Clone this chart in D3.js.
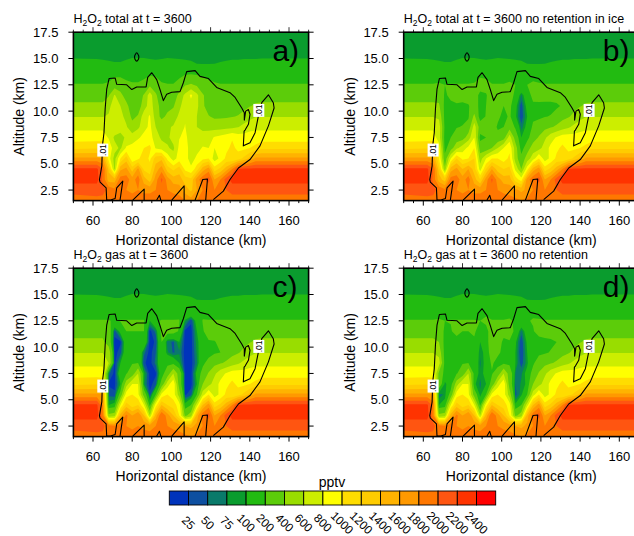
<!DOCTYPE html>
<html><head><meta charset="utf-8">
<script src="https://cdnjs.cloudflare.com/ajax/libs/d3/7.8.5/d3.min.js"></script>
<style>html,body{margin:0;padding:0;background:#fff;overflow:hidden}svg{display:block}text{font-family:"Liberation Sans",Arial,sans-serif;fill:#000}</style>
</head><body><svg id="c" width="634" height="536"></svg>
<script>
const levels=[25,50,75,100,200,400,600,800,1000,1200,1400,1600,1800,2000,2200,2400];
const colors=["#0033bb","#0d4fa0","#0a7a6a","#0a9c2e","#22bb11","#5ccc0a","#99dd00","#ccee00","#ffff00","#ffdd00","#ffcc00","#ffb300","#ff9900","#ff7700","#ff5511","#ff3300","#ff0000"];
const distance=[62,65,68,71,74,77,80,83,86,89,92,95,98,101,104,107,110,113,116,119,122,125,128,131,134,137,140,143,146,149,152,155];
const altitudeLow=[12.5,11.5,10.5,9.5,8.5,7.5,6.5,5.5,4.5,3.5,2.5,1.5];
const altitudeHigh=[17.5,16.5,15.5,14.5,13.5];
const clearAirHigh=[85,88,95,105,155];
const clearAirLow=[205,320,440,590,750,900,1150,1650,2240,2280,2070,1900];
const row145=[104,103,102,101,101,103,106,107,106,104,103,104,106,105,104,103,102,100,99,99,100,101,102,103,103,104,104,104,105,105,105,105];
const row135=[155,155,160,165,160,155,155,155,160,175,170,155,155,155,165,190,200,190,170,160,155,155,155,155,155,155,155,155,155,155,155,155];
const panelA=[
[205,205,215,290,300,235,215,215,245,350,300,215,205,205,255,380,420,370,290,240,215,205,205,205,205,205,205,205,205,205,205,205],
[320,320,380,620,450,320,270,290,420,700,430,270,255,270,460,650,840,650,420,320,290,280,280,285,290,295,305,315,320,320,320,320],
[440,440,550,700,600,450,300,300,500,700,500,320,340,380,550,720,720,650,430,320,295,285,290,300,310,340,390,430,440,440,440,440],
[590,590,620,700,650,550,350,420,720,820,500,350,440,500,640,780,700,600,430,410,370,370,375,390,410,470,540,585,590,590,590,590],
[750,750,760,780,700,620,480,560,720,850,600,530,570,620,720,810,640,600,550,530,510,520,530,550,590,660,720,750,750,750,750,750],
[900,900,780,560,520,640,680,760,880,880,700,560,560,680,790,850,700,680,680,720,820,860,920,980,900,880,900,900,900,900,900,900],
[1180,1180,950,680,560,830,880,980,1000,1050,780,700,620,560,850,900,700,720,820,800,800,850,950,1050,950,950,1000,1050,1150,1150,1150,1150],
[1650,1600,900,520,1000,1300,850,950,1150,950,1300,1350,950,700,900,900,700,850,950,1000,700,850,1050,1000,1100,1250,1450,1650,1650,1650,1650,1650],
[2240,2000,1350,550,1550,1650,1300,1650,1150,1100,1500,1700,1300,1150,1300,950,850,1100,1500,1700,1100,1250,1500,1800,2200,2240,2240,2240,2240,2240,2240,2240],
[2280,1950,1500,1500,1900,1900,1700,1900,1500,1300,1700,2050,1700,1500,1500,1300,1250,1700,1950,2100,1600,1800,2100,2280,2280,2280,2280,2280,2280,2280,2280,2280],
[2070,2050,1950,1850,1900,1800,1750,1800,1750,1750,1800,1900,1800,1750,1700,1500,1350,1600,1800,1800,1800,1850,2000,2070,2070,2070,2070,2070,2070,2070,2070,2070],
[1950,1950,1950,1950,1950,1950,1900,1950,1900,1900,1950,1950,1950,1900,1900,1800,1700,1800,1900,1900,1900,1900,1900,1900,1900,1900,1900,1900,1900,1900,1900,1900]];
const panelB=[
[205,205,210,200,205,205,205,205,210,250,240,205,205,205,215,200,190,200,215,210,205,205,205,205,205,205,205,205,205,205,205,205],
[320,320,320,180,230,290,260,260,260,170,190,260,255,255,260,170,70,150,230,270,280,280,280,285,290,295,305,315,320,320,320,320],
[440,440,430,150,170,170,170,190,260,170,200,290,290,200,230,120,35,120,180,160,150,150,170,220,280,340,390,430,440,440,440,440],
[590,590,560,140,150,150,150,180,450,120,210,320,230,160,220,110,30,100,180,170,190,210,280,340,380,450,530,585,590,590,590,590],
[750,750,700,160,190,190,210,260,700,300,280,280,180,200,300,180,60,120,220,280,340,380,430,500,570,650,720,750,750,750,750,750],
[900,900,700,130,200,280,300,500,800,150,200,220,250,300,700,300,100,150,300,420,560,720,820,900,900,880,890,900,900,900,900,900],
[1180,1180,900,150,300,550,700,850,1000,300,250,400,600,800,950,500,130,300,500,520,700,850,950,1050,950,950,1000,1050,1150,1150,1150,1150],
[1650,1600,1000,250,800,1200,950,1000,1200,500,800,1000,1000,900,1050,500,250,500,700,1000,700,850,1050,1000,1100,1250,1450,1650,1650,1650,1650,1650],
[2240,2000,1300,450,1500,1650,1400,1600,1300,700,1200,1600,1300,1200,1250,750,400,900,1500,1700,1100,1250,1500,1800,2200,2240,2240,2240,2240,2240,2240,2240],
[2280,1950,1500,1300,1900,1900,1700,1900,1500,1200,1700,2050,1700,1500,1500,1100,900,1700,1950,2100,1600,1800,2100,2280,2280,2280,2280,2280,2280,2280,2280,2280],
[2070,2050,1950,1850,1900,1800,1750,1800,1750,1750,1800,1900,1800,1750,1700,1650,1550,1650,1800,1800,1800,1850,2000,2070,2070,2070,2070,2070,2070,2070,2070,2070],
[1950,1950,1950,1950,1950,1950,1900,1950,1900,1900,1950,1950,1950,1900,1900,1850,1800,1850,1900,1900,1900,1900,1900,1900,1900,1900,1900,1900,1900,1900,1900,1900]];
const panelC=[
[205,205,205,190,205,205,205,205,205,100,190,205,205,205,205,90,30,130,205,205,205,205,205,205,205,205,205,205,205,205,205,205],
[320,320,290,40,120,200,200,200,200,15,60,230,240,240,190,15,15,100,190,250,280,280,280,285,290,295,305,315,320,320,320,320],
[440,440,300,12,20,150,160,170,180,12,30,200,60,45,100,12,12,90,130,190,190,240,260,280,300,340,390,430,440,440,440,440],
[590,590,530,12,40,150,160,170,60,12,50,170,80,45,70,12,12,80,150,150,180,200,280,340,380,450,530,585,590,590,590,590],
[750,750,600,15,100,170,190,200,30,12,60,170,170,160,100,12,12,70,170,250,340,380,430,500,570,650,720,750,750,750,750,750],
[900,900,60,15,150,190,280,600,100,12,20,150,280,600,300,15,15,120,250,420,560,720,820,900,900,880,890,900,900,900,900,900],
[1180,1150,20,18,100,500,800,800,80,15,40,250,700,950,300,15,15,100,400,520,700,850,950,1050,950,950,1000,1050,1150,1150,1150,1150],
[1650,1600,40,30,250,900,1000,850,300,30,200,850,1000,900,500,20,40,200,700,1000,700,850,1050,1000,1100,1250,1450,1650,1650,1650,1650,1650],
[2240,1800,100,120,800,1300,1100,1200,800,150,900,1400,1200,1100,900,120,200,700,1400,1700,1100,1250,1500,1800,2200,2240,2240,2240,2240,2240,2240,2240],
[2280,1900,450,500,1500,1850,1600,1800,1400,600,1500,2000,1700,1400,1000,350,500,1500,1950,2100,1600,1800,2100,2280,2280,2280,2280,2280,2280,2280,2280,2280],
[2070,2050,1900,1850,1900,1800,1750,1800,1750,1700,1800,1900,1800,1750,1700,1600,1550,1650,1800,1800,1800,1850,2000,2070,2070,2070,2070,2070,2070,2070,2070,2070],
[1950,1950,1950,1950,1950,1950,1900,1950,1900,1900,1950,1950,1950,1900,1900,1850,1800,1850,1900,1900,1900,1900,1900,1900,1900,1900,1900,1900,1900,1900,1900,1900]];
const panelD=[
[205,205,210,200,205,205,205,205,205,200,220,205,205,205,210,190,170,190,210,210,205,205,205,205,205,205,205,205,205,205,205,205],
[320,320,310,170,190,240,200,200,220,140,170,250,255,250,260,170,60,140,190,250,270,280,280,285,290,295,305,315,320,320,320,320],
[440,440,400,140,150,150,150,160,180,100,150,280,270,170,190,110,30,110,170,150,160,170,200,280,300,340,390,430,440,440,440,440],
[590,590,530,130,140,150,150,170,170,80,120,280,230,160,180,100,25,100,170,170,180,210,280,340,380,450,530,585,590,590,590,590],
[750,750,680,140,140,170,190,200,170,70,120,220,150,170,170,100,35,90,180,270,340,380,430,500,570,650,720,750,750,750,750,750],
[900,900,350,140,170,190,280,600,150,80,120,190,280,600,300,70,70,120,250,420,560,720,820,900,900,880,890,900,900,900,900,900],
[1180,1150,300,90,130,500,800,800,110,70,100,250,700,950,300,50,80,110,400,520,700,850,950,1050,950,950,1000,1050,1150,1150,1150,1150],
[1650,1600,60,80,250,900,1000,850,300,80,200,850,1000,900,500,40,90,200,700,1000,700,850,1050,1000,1100,1250,1450,1650,1650,1650,1650,1650],
[2240,1900,100,130,800,1300,1100,1200,800,170,900,1400,1200,1100,900,110,200,700,1400,1700,1100,1250,1500,1800,2200,2240,2240,2240,2240,2240,2240,2240],
[2280,1900,450,500,1500,1850,1600,1800,1400,600,1500,2000,1700,1400,1000,350,500,1500,1950,2100,1600,1800,2100,2280,2280,2280,2280,2280,2280,2280,2280,2280],
[2070,2050,1900,1850,1900,1800,1750,1800,1750,1700,1800,1900,1800,1750,1700,1600,1550,1650,1800,1800,1800,1850,2000,2070,2070,2070,2070,2070,2070,2070,2070,2070],
[1950,1950,1950,1950,1950,1950,1900,1950,1900,1900,1950,1950,1950,1900,1900,1850,1800,1850,1900,1900,1900,1900,1900,1900,1900,1900,1900,1900,1900,1900,1900,1900]];
const cloudOutline=[[67,1.5],[66.7,2.7],[63.6,3.25],[63.3,3.5],[64.5,4.8],[64.8,6.7],[65.6,7.95],[66.2,10.2],[67,12.1],[68.2,13.1],[71.3,13.15],[72.1,12.55],[77.2,12.5],[79.8,12.05],[82.3,12.3],[87.1,12.3],[87.9,13.2],[90,13.65],[92.5,13],[94.2,12.05],[95.9,11],[97.6,11.6],[100.2,11.8],[104.4,11.85],[106.1,12.7],[107.8,13.75],[112.1,13.85],[114.6,13.3],[118.9,13.1],[123.1,12.25],[129.9,11.75],[132.5,11.3],[135.9,10.3],[137.2,9.85],[137.2,9.15],[137.9,10],[139.3,10.15],[140.1,9.7],[139.3,8.75],[137.6,8.2],[137.1,8.1],[136.7,6.7],[140.1,7],[142.7,7.95],[144.4,9.55],[146.1,10.8],[149.5,11.55],[152,10.8],[152.4,10.3],[149.5,8.6],[145.2,6.7],[140.1,5.4],[134.2,4.6],[129.9,3.5],[126.5,2.4],[121.4,1.6]];
const cloudLobes=[[[67,1.55],[69,1.55],[71.3,1.7],[72.1,2.7],[75.2,3.35],[73.8,1.55]],[[80.3,1.55],[86.1,2.6],[86.1,1.55]],[[92.5,1.55],[93.9,2],[94.6,1.55]],[[100.2,1.55],[106.5,2.9],[106.5,1.55]],[[112.1,1.55],[116,3.5],[118.4,3.55],[117.5,1.55]]];
const cloudRing=[[82.3,15.55],[83.1,15.35],[83.4,15.15],[83.1,14.9],[82.3,14.75],[81.5,14.9],[81.2,15.15],[81.5,15.35]];
const contourLabels=[[65,6.3],[144.6,10.07]];
const xTicks=[60,80,100,120,140,160];
const yTicks=[2.5,5,7.5,10,12.5,15,17.5];
const titles=[["total at t = 3600","a)"],["total at t = 3600 no retention in ice","b)"],["gas at t = 3600","c)"],["gas at t = 3600 no retention","d)"]];
const panels=[panelA,panelB,panelC,panelD];

const svg=d3.select("#c");
const W=235.2,H=168.4,X0=[73.4,403.7],Y0=[32.2,268.2];
const xs=[50,...distance,170];
const alts=[...altitudeHigh,...altitudeLow];
const xScale=d3.scaleLinear().domain([50,170]).range([0,W]);
const yScale=d3.scaleLinear().domain([17.5,1.5]).range([0,H]);
const ix=d3.scaleLinear().domain(xs.map((d,i)=>i+0.5)).range(xs).clamp(true);
const iy=d3.scaleLinear().domain(alts.map((d,i)=>i+0.5)).range(alts).clamp(true);
const proj=d3.geoTransform({point(x,y){this.stream.point(xScale(ix(x)),yScale(iy(y)));}});
const geo=d3.geoPath(proj);
const line=d3.line().x(d=>xScale(d[0])).y(d=>yScale(d[1]));

panels.forEach((m,k)=>{
  const col=k%2,row=k>>1,g=svg.append("g").attr("transform",`translate(${X0[col]},${Y0[row]})`);
  const grid=[];
  altitudeHigh.forEach((a,r)=>{
    const v=r===3?row145:r===4?row135:distance.map(()=>clearAirHigh[r]);
    grid.push(clearAirHigh[r],...v,clearAirHigh[r]);
  });
  m.forEach((vals,r)=>grid.push(clearAirLow[r],...vals,clearAirLow[r]));
  const cs=d3.contours().size([xs.length,alts.length]).smooth(true).thresholds(levels)(grid);
  const cid="clip"+k;
  g.append("clipPath").attr("id",cid).append("rect").attr("width",W).attr("height",H);
  const body=g.append("g").attr("clip-path",`url(#${cid})`);
  body.append("rect").attr("width",W).attr("height",H).attr("fill",colors[0]);
  body.selectAll("path.f").data(cs).join("path").attr("class","f").attr("d",geo).attr("fill",(d,i)=>colors[i+1]);
  const stroke=s=>s.attr("fill","none").attr("stroke","#000").attr("stroke-width",1.1).attr("stroke-linejoin","round");
  body.append("path").attr("d",line(cloudOutline)).call(stroke);
  cloudLobes.forEach(l=>body.append("path").attr("d",line(l)).call(stroke));
  body.append("path").attr("d",d3.line().x(d=>xScale(d[0])).y(d=>yScale(d[1])).curve(d3.curveCardinalClosed)(cloudRing)).call(stroke);
  contourLabels.forEach(p=>{
    const cx=xScale(p[0]),cy=yScale(p[1]);
    body.append("rect").attr("x",cx-5.5).attr("y",cy-6.5).attr("width",11).attr("height",13).attr("fill","#fff");
    body.append("text").attr("transform",`translate(${cx+2.8},${cy}) rotate(-90)`).attr("text-anchor","middle").attr("font-size",8.5).text(".01");
  });
  const minor=d3.range(50,171,5);
  const tk=(x1,y1,x2,y2,w)=>g.append("line").attr("x1",x1).attr("y1",y1).attr("x2",x2).attr("y2",y2).attr("stroke","#000").attr("stroke-width",w);
  minor.forEach(v=>{
    const maj=xTicks.includes(v),x=xScale(v),l=maj?5:2.5;
    tk(x,H,x,H+l,1); tk(x,0,x,-l,0.8);
  });
  yTicks.forEach(v=>{const y=yScale(v);tk(0,y,-5,y,1);tk(W,y,W+5,y,1);});
  g.append("rect").attr("width",W).attr("height",H).attr("fill","none").attr("stroke","#000").attr("stroke-width",1.6);
  g.selectAll("text.xl").data(xTicks).join("text").attr("class","xl").attr("x",d=>xScale(d)).attr("y",H+24.8).attr("text-anchor","middle").attr("font-size",13).text(d=>d);
  g.selectAll("text.yl").data(yTicks).join("text").attr("class","yl").attr("x",-15).attr("y",d=>yScale(d)+4.6).attr("text-anchor","end").attr("font-size",13).text(d=>d3.format(".1f")(d));
  g.append("text").attr("x",W/2).attr("y",H+44.2).attr("text-anchor","middle").attr("font-size",14).text("Horizontal distance (km)");
  g.append("text").attr("transform",`translate(-49,${H/2}) rotate(-90)`).attr("text-anchor","middle").attr("font-size",14).text("Altitude (km)");
  const t=g.append("text").attr("x",0).attr("y",-9.5).attr("font-size",12.5);
  t.append("tspan").text("H");
  t.append("tspan").attr("dy",3).attr("font-size",8.5).text("2");
  t.append("tspan").attr("dy",-3).text("O");
  t.append("tspan").attr("dy",3).attr("font-size",8.5).text("2");
  t.append("tspan").attr("dy",-3).text(" "+titles[k][0]);
  g.append("text").attr("x",199).attr("y",28.5).attr("font-size",30).text(titles[k][1]);
});

const lx=d3.scaleLinear().domain([0,colors.length]).range([169.3,495.7]);
const lg=svg.append("g");
lg.selectAll("rect").data(colors).join("rect").attr("x",(d,i)=>lx(i)).attr("y",491).attr("width",(d,i)=>lx(i+1)-lx(i)).attr("height",14).attr("fill",d=>d).attr("stroke","#000").attr("stroke-width",0.9);
lg.selectAll("text").data(levels).join("text").attr("transform",(d,i)=>`translate(${lx(i+1)},522.8) rotate(45)`).attr("text-anchor","middle").attr("dy","0.35em").attr("font-size",11.8).text(d=>d);
svg.append("text").attr("x",332).attr("y",486.5).attr("text-anchor","middle").attr("font-size",14).text("pptv");
</script></body></html>
